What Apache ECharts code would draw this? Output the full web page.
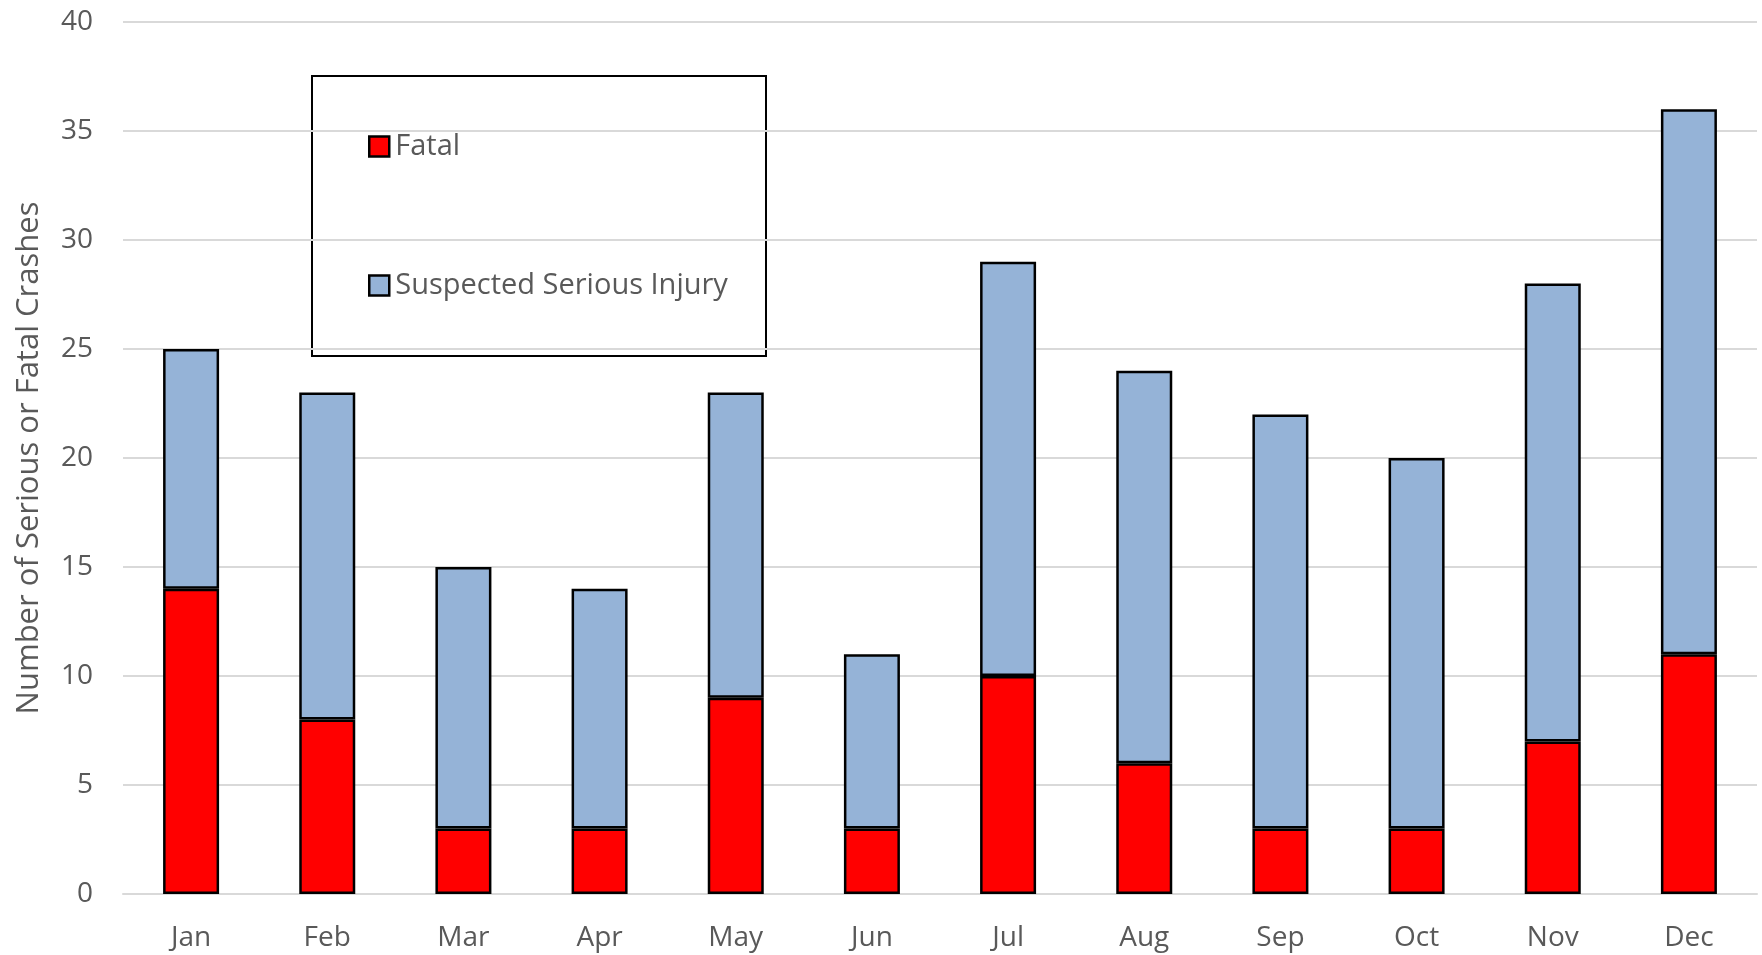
<!DOCTYPE html>
<html>
<head>
<meta charset="utf-8">
<script src="https://cdn.jsdelivr.net/npm/echarts@6/dist/echarts.min.js"></script>
<style>
  html, body { margin: 0; padding: 0; background: #fff; }
  #chart { width: 1762px; height: 955px; }
</style>
</head>
<body>
<div id="chart"></div>
<script>
// Monthly serious-injury and fatal crash counts
const months = ['Jan', 'Feb', 'Mar', 'Apr', 'May', 'Jun', 'Jul', 'Aug', 'Sep', 'Oct', 'Nov', 'Dec'];
const fatal = [14, 8, 3, 3, 9, 3, 10, 6, 3, 3, 7, 11];
const seriousInjury = [11, 15, 12, 11, 14, 8, 19, 18, 19, 17, 21, 25];

const font = '"Open Sans", "Noto Sans", sans-serif';
const textColor = '#595959';
const gridColor = '#D9D9D9';

const chart = echarts.init(document.getElementById('chart'));
chart.setOption({
  animation: false,
  backgroundColor: '#ffffff',
  textStyle: { fontFamily: font, color: textColor },
  grid: { left: 123, right: 5, top: 22, bottom: 61, containLabel: false },
  legend: {
    orient: 'vertical',
    left: 368,
    top: 132,
    padding: 0,
    icon: 'rect',
    itemWidth: 20,
    itemHeight: 20,
    itemGap: 110,
    textStyle: { fontFamily: font, fontSize: 29, color: textColor, padding: [0, 0, 0, 1] },
    data: [
      { name: 'Fatal', itemStyle: { color: '#FF0000', borderColor: '#000', borderWidth: 2.5 } },
      { name: 'Suspected Serious Injury', itemStyle: { color: '#95B3D7', borderColor: '#000', borderWidth: 2.5 } }
    ]
  },
  graphic: [{
    type: 'rect',
    z: 0,
    shape: { x: 312, y: 76, width: 454, height: 280 },
    style: { fill: '#ffffff', stroke: '#000000', lineWidth: 2 }
  }],
  xAxis: {
    type: 'category',
    data: months,
    axisLine: { show: true, lineStyle: { color: gridColor, width: 2 } },
    axisTick: { show: false },
    axisLabel: { fontFamily: font, fontSize: 28, color: textColor, margin: 30 }
  },
  yAxis: {
    type: 'value',
    min: 0,
    max: 40,
    interval: 5,
    name: 'Number of Serious or Fatal Crashes',
    nameLocation: 'middle',
    nameGap: 78,
    nameTextStyle: { fontFamily: font, fontSize: 31, color: textColor },
    axisLine: { show: false },
    axisTick: { show: false },
    axisLabel: { fontFamily: font, fontSize: 28, color: textColor, margin: 30 },
    splitLine: { lineStyle: { color: gridColor, width: 2 } }
  },
  series: [
    {
      name: 'Fatal',
      type: 'bar',
      stack: 'crashes',
      barWidth: 56,
      data: fatal,
      itemStyle: { color: '#FF0000', borderColor: '#000000', borderWidth: 2.5 }
    },
    {
      name: 'Suspected Serious Injury',
      type: 'bar',
      stack: 'crashes',
      barWidth: 56,
      data: seriousInjury,
      itemStyle: { color: '#95B3D7', borderColor: '#000000', borderWidth: 2.5 }
    }
  ]
});
</script>
</body>
</html>
